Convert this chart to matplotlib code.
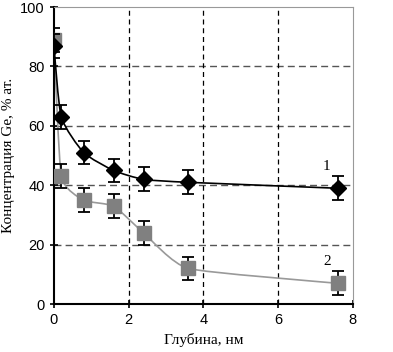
import numpy as np
import matplotlib.pyplot as plt
from matplotlib.path import Path
from matplotlib.patches import PathPatch

depth = [0, 0.2, 0.8, 1.6, 2.4, 3.6, 7.6]
conc1 = [87, 63, 51, 45, 42, 41, 39]
conc2 = [89, 43, 35, 33, 24, 12, 7]
err1 = [4, 4, 4, 4, 4, 4, 4]
err2 = [4, 4, 4, 4, 4, 4, 4]


def smooth_path(x, y, t=0.5):
    # Catmull-Rom through the points, as cubic bezier segments
    x = np.asarray(x, float)
    y = np.asarray(y, float)
    pts = np.column_stack([x, y])
    verts = [pts[0]]
    codes = [Path.MOVETO]
    n = len(pts)
    for i in range(n - 1):
        p0 = pts[max(i - 1, 0)]
        p1 = pts[i]
        p2 = pts[i + 1]
        p3 = pts[min(i + 2, n - 1)]
        c1 = p1 + (p2 - p0) * t / 3
        c2 = p2 - (p3 - p1) * t / 3
        verts += [c1, c2, p2]
        codes += [Path.CURVE4] * 3
    return Path(verts, codes)


fig = plt.figure(figsize=(3.93, 3.52), dpi=100)
ax = fig.add_axes([0.137, 0.136, 0.761, 0.844])

for v in [20, 40, 60, 80]:
    ax.axhline(v, color='#555555', lw=1, ls=(0, (5, 3)), zorder=1)
for v in [2, 4, 6]:
    ax.axvline(v, color='black', lw=0.9, ls=(0, (4, 3)), zorder=1)

ax.add_patch(PathPatch(smooth_path(depth, conc2, 0.25), fc='none', ec='#999999', lw=1.2, zorder=2))
ax.add_patch(PathPatch(smooth_path(depth, conc1, 0.3), fc='none', ec='black', lw=1.2, zorder=3))

ax.errorbar(depth, conc2, yerr=err2, fmt='s', color='#808080', ecolor='black',
            markersize=10, capsize=4, elinewidth=1.3, capthick=1.3, zorder=4)
ax.errorbar(depth, conc1, yerr=err1, fmt='D', color='black', ecolor='black',
            markersize=8, capsize=4, elinewidth=1.3, capthick=1.3, zorder=5)

ax.text(7.3, 44, '1', family='Liberation Serif', fontsize=11, ha='center', va='bottom')
ax.text(7.3, 12, '2', family='Liberation Serif', fontsize=11, ha='center', va='bottom')

ax.set_xlim(0, 8)
ax.set_ylim(0, 100)
ax.set_xticks([0, 2, 4, 6, 8])
ax.set_yticks([0, 20, 40, 60, 80, 100])
ax.tick_params(direction='inout', length=6, width=1.2, labelsize=10.5)
for lab in ax.get_xticklabels() + ax.get_yticklabels():
    lab.set_family('Liberation Sans')

ax.spines['left'].set_linewidth(1.5)
ax.spines['bottom'].set_linewidth(1.5)
ax.spines['top'].set_color('#999999')
ax.spines['right'].set_color('#999999')

ax.set_xlabel('Глубина, нм', family='Liberation Serif', fontsize=11)
ax.set_ylabel('Концентрация Ge, % ат.', family='Liberation Serif', fontsize=11, labelpad=4)

plt.savefig('out.png')
